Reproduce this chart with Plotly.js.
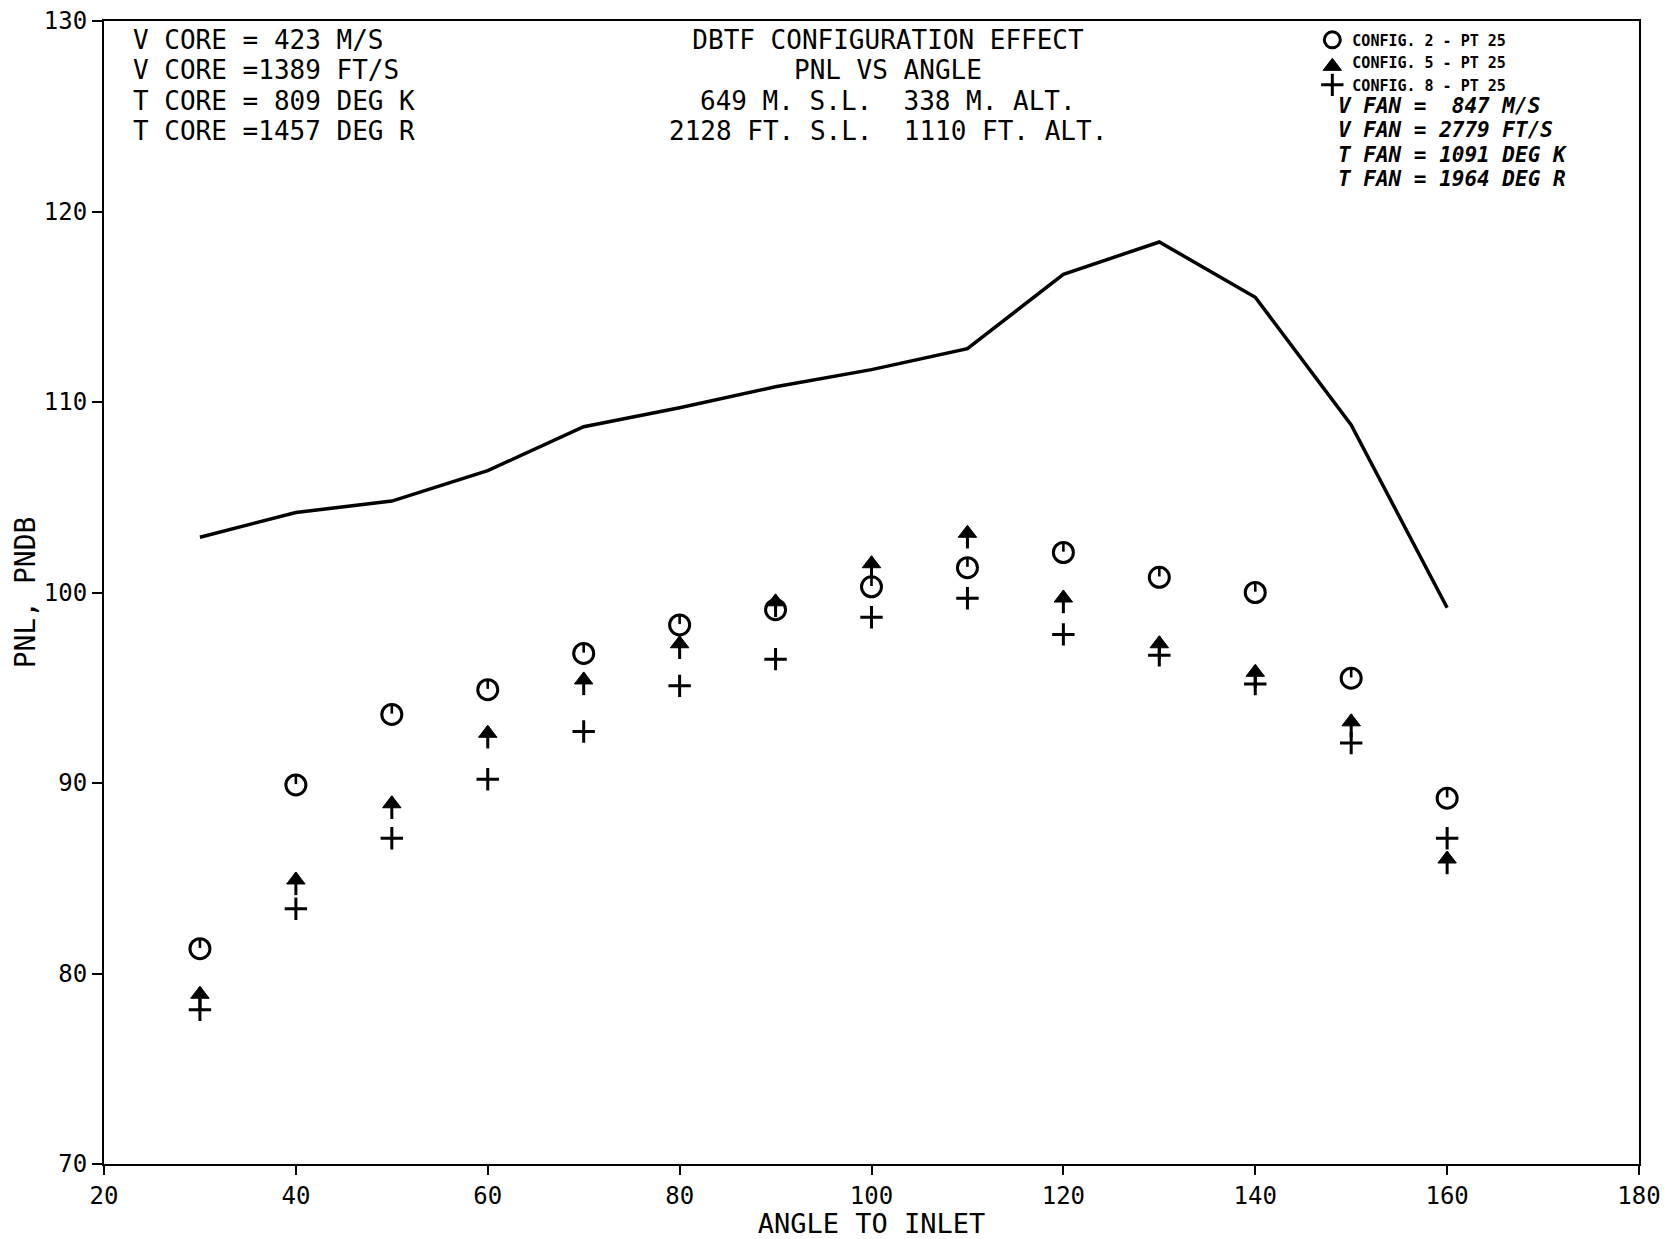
<!DOCTYPE html>
<html><head><meta charset="utf-8">
<script src="https://cdn.plot.ly/plotly-3.0.1.min.js"></script>
<style>html,body{margin:0;padding:0;background:#fff}</style>
</head><body><div id="chart" style="width:1678px;height:1239px"></div>
<script>
// ---- data ----
const angles = [30, 40, 50, 60, 70, 80, 90, 100, 110, 120, 130, 140, 150, 160];
const pnlCurve = [102.9, 104.2, 104.8, 106.4, 108.7, 109.7, 110.8, 111.7, 112.8, 116.7, 118.4, 115.5, 108.8, 99.2];
const config2 = [81.3, 89.9, 93.6, 94.9, 96.8, 98.3, 99.1, 100.3, 101.3, 102.1, 100.8, 100.0, 95.5, 89.2];
const config5 = [78.7, 84.7, 88.7, 92.4, 95.2, 97.1, 99.3, 101.3, 102.9, 99.5, 97.1, 95.6, 93.0, 85.8];
const config8 = [78.1, 83.4, 87.1, 90.2, 92.7, 95.1, 96.5, 98.7, 99.7, 97.8, 96.7, 95.2, 92.1, 87.1];
const seriesNames = ['CONFIG. 2 - PT 25', 'CONFIG. 5 - PT 25', 'CONFIG. 8 - PT 25'];
const xTicks = [20, 40, 60, 80, 100, 120, 140, 160, 180];
const yTicks = [70, 80, 90, 100, 110, 120, 130];
const coreLines = ['V CORE = 423 M/S', 'V CORE =1389 FT/S', 'T CORE = 809 DEG K', 'T CORE =1457 DEG R'];
const titleLines = ['DBTF CONFIGURATION EFFECT', 'PNL VS ANGLE', '649 M. S.L.  338 M. ALT.', '2128 FT. S.L.  1110 FT. ALT.'];
const fanLines = ['V FAN =  847 M/S', 'V FAN = 2779 FT/S', 'T FAN = 1091 DEG K', 'T FAN = 1964 DEG R'];

const mono = 'DejaVu Sans Mono, Liberation Mono, monospace';
const nb = s => s.replace(/ /g, '\u00a0');

const traces = [
  {x: angles, y: pnlCurve, mode: 'lines', line: {color: 'black', width: 3.5}, showlegend: false, hoverinfo: 'skip'},
  {x: angles, y: config2, mode: 'markers', name: seriesNames[0], legendgroup: 'c2',
   marker: {symbol: 'circle-open', size: 20, color: 'black', line: {color: 'black', width: 3}}},
  {x: angles, y: config2, mode: 'markers', legendgroup: 'c2', showlegend: false, hoverinfo: 'skip',
   marker: {symbol: 'line-ns-open', size: 6, angle: 180, standoff: 5, color: 'black', line: {color: 'black', width: 2.6}}},
  {x: angles, y: config5, mode: 'markers', legendgroup: 'c5', showlegend: false, hoverinfo: 'skip',
   marker: {symbol: 'line-ns-open', size: 16, color: 'black', line: {color: 'black', width: 3}}},
  {x: angles, y: config5, mode: 'markers', name: seriesNames[1], legendgroup: 'c5',
   marker: {symbol: 'triangle-down', size: 16, angle: 180, standoff: 4, color: 'black', line: {color: 'black', width: 1}}},
  {x: angles, y: config8, mode: 'markers', name: seriesNames[2], legendgroup: 'c8',
   marker: {symbol: 'cross-thin-open', size: 16, color: 'black', line: {color: 'black', width: 3}}}
];

const plotTopPx = 21.4, plotBotPx = 1164.4, plotLeftPx = 104, plotRightPx = 1638.6;
const py = p => (plotBotPx - p) / (plotBotPx - plotTopPx);
const px = p => (p - plotLeftPx) / (plotRightPx - plotLeftPx);

const annotations = [];
const rowPx = [40, 70.5, 101, 131.5];
coreLines.forEach((t, i) => annotations.push({
  text: nb(t), xref: 'paper', yref: 'paper', x: px(131), y: py(rowPx[i]), xanchor: 'left', yanchor: 'middle',
  showarrow: false, font: {family: mono, size: 26, color: 'black'}
}));
titleLines.slice(1).forEach((t, i) => annotations.push({
  text: nb(t), xref: 'paper', yref: 'paper', x: px(888), y: py(rowPx[i + 1]), xanchor: 'center', yanchor: 'middle',
  showarrow: false, font: {family: mono, size: 26, color: 'black'}
}));
const fanPx = [106, 130.5, 155, 179.5];
fanLines.forEach((t, i) => annotations.push({
  text: '<b><i>' + nb(t) + '</i></b>', xref: 'paper', yref: 'paper', x: px(1336), y: py(fanPx[i]), xanchor: 'left', yanchor: 'middle',
  showarrow: false, font: {family: mono, size: 21, color: 'black'}
}));

const layout = {
  width: 1678, height: 1239,
  margin: {l: 104, r: 1678 - 1638.6, t: 21.4, b: 1239 - 1164.4, pad: 0},
  paper_bgcolor: 'white', plot_bgcolor: 'white',
  title: {text: nb(titleLines[0]), x: 888 / 1678, xanchor: 'center', y: 1 - rowPx[0] / 1239, yanchor: 'middle',
          font: {family: mono, size: 26, color: 'black'}},
  xaxis: {range: [20, 180], tickvals: xTicks, ticktext: xTicks.map(String), showgrid: false, zeroline: false,
          showline: true, linecolor: 'black', linewidth: 2, mirror: true,
          ticks: 'outside', ticklen: 9, tickwidth: 2, tickcolor: 'black',
          tickfont: {family: mono, size: 24, color: 'black'},
          title: {text: 'ANGLE TO INLET', standoff: 3, font: {family: mono, size: 27, color: 'black'}}},
  yaxis: {range: [70, 130], tickvals: yTicks, ticktext: yTicks.map(String), showgrid: false, zeroline: false,
          showline: true, linecolor: 'black', linewidth: 2, mirror: true,
          ticks: 'outside', ticklen: 10, tickwidth: 2, tickcolor: 'black',
          tickfont: {family: mono, size: 24, color: 'black'},
          title: {text: 'PNL, PNDB', standoff: 0, font: {family: mono, size: 28, color: 'black'}}},
  legend: {x: px(1312), xanchor: 'left', y: py(24), yanchor: 'top', bgcolor: 'rgba(0,0,0,0)',
           font: {family: mono, size: 15, color: 'black', weight: 'bold'}, traceorder: 'normal', itemwidth: 30},
  annotations: annotations,
  showlegend: true
};

Plotly.newPlot('chart', traces, layout, {displayModeBar: false, staticPlot: true});
</script>
</body></html>
